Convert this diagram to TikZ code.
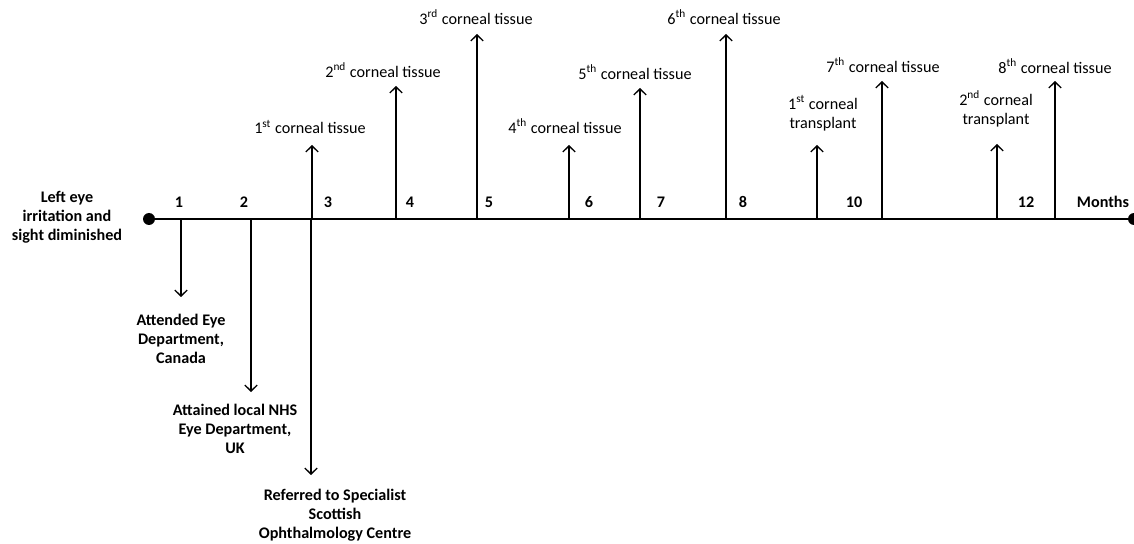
\documentclass[tikz,border=0pt]{standalone}
\usepackage{fontspec}
\setmainfont{Carlito}
\usetikzlibrary{arrows.meta}
\tikzset{
  txt/.style={align=center, inner sep=0pt, font=\fontsize{9.2}{10.8}\selectfont},
  btxt/.style={align=center, inner sep=0pt, font=\fontsize{9.2}{10.8}\selectfont\bfseries},
  event/.style={->, line width=0.75pt}
}
\begin{document}
\begin{tikzpicture}[x=0.02cm, y=-0.02cm, >={Straight Barb[length=3.4pt,width=7pt]}]
\useasboundingbox (0,0) rectangle (1134,544);
\path (149,219) coordinate (S) (1134,219) coordinate (E);
\draw[line width=1.4pt] (S)--(E);
\fill (S) circle (6) (E) circle (6);
\node[btxt] (start) at (67,217) {Left eye\\irritation and\\sight diminished};
% months
\foreach \x/\m in {179/1, 244/2, 328/3, 410/4, 489/5, 589/6, 661/7, 743/8, 854/10, 1026/12}{
  \node[btxt] (m\m) at (\x,202) {\m};
}
\node[btxt] (mo) at (1103,202) {Months};
% down
\foreach \x/\t/\lx/\ly/\s [count=\i] in {
  181/297/181/339/{Attended Eye\\Department,\\Canada},
  251/392/235/429/{Attained local NHS\\Eye Department,\\UK},
  311/475/335/515/{Referred to Specialist\\Scottish\\Ophthalmology Centre}}{
  \path (\x,219) coordinate (da\i) (\x,\t) coordinate (dt\i);
  \draw[event] (da\i)--(dt\i);
  \node[btxt] (d\i) at (\lx,\ly) {\s};
}
% up
\foreach \x/\t/\lx/\ly/\s [count=\i] in {
  312/145/310/127/{1\textsuperscript{st} corneal tissue},
  396/86/383/70/{2\textsuperscript{nd} corneal tissue},
  477/34/476/17/{3\textsuperscript{rd} corneal tissue},
  569/145/565/126/{4\textsuperscript{th} corneal tissue},
  640/88/635/72/{5\textsuperscript{th} corneal tissue},
  726/34/724/17/{6\textsuperscript{th} corneal tissue},
  817/145/823/113/{1\textsuperscript{st} corneal\\transplant},
  882/81/883/65/{7\textsuperscript{th} corneal tissue},
  997/144/996/109/{2\textsuperscript{nd} corneal\\transplant},
  1055/81/1055/66/{8\textsuperscript{th} corneal tissue}}{
  \path (\x,219) coordinate (ua\i) (\x,\t) coordinate (ut\i);
  \draw[event] (ua\i)--(ut\i);
  \node[txt] (u\i) at (\lx,\ly) {\s};
}
\end{tikzpicture}
\end{document}
